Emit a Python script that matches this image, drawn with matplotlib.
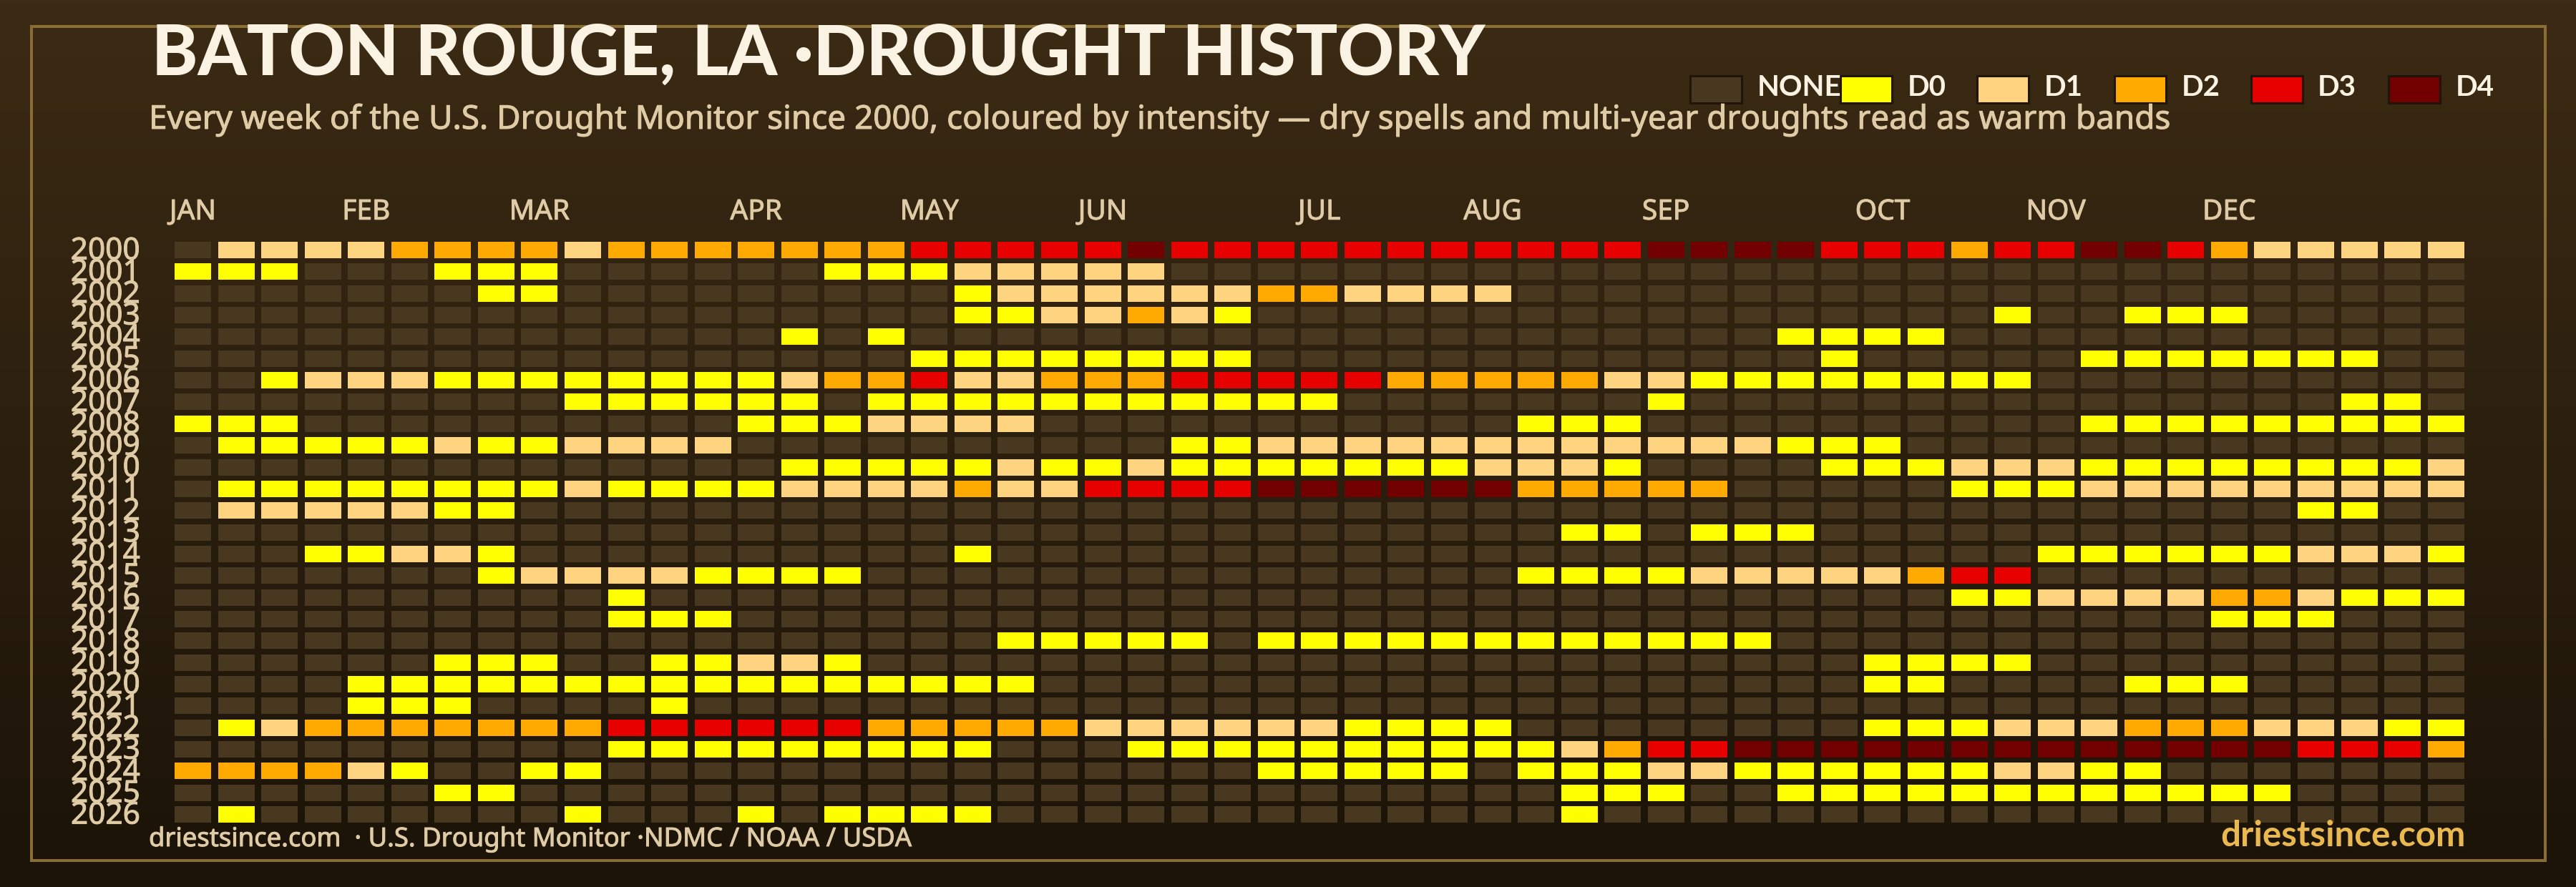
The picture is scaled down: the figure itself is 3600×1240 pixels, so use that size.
import numpy as np
import matplotlib
matplotlib.use("Agg")
import matplotlib.pyplot as plt
import matplotlib.patheffects as pe
from matplotlib.patches import Rectangle

W, H = 3600, 1240
FONT = "Noto Sans"
BOLD = ["Lato", "DejaVu Sans"]

LEVELS = [".", "0", "1", "2", "3", "4"]
LEVEL_LABELS = ["NONE", "D0", "D1", "D2", "D3", "D4"]
LEVEL_COLORS = ["#48381f", "#ffff00", "#ffd480", "#ffaa00", "#e60000", "#730000"]

MONTHS = ["JAN", "FEB", "MAR", "APR", "MAY", "JUN", "JUL", "AUG", "SEP", "OCT", "NOV", "DEC"]
MONTH_WEEKS = [0, 4, 8, 13, 17, 21, 26, 30, 34, 39, 43, 47]

YEARS = list(range(2000, 2027))

# one char per week: . = none, 0-4 = D0-D4
w2000 = ".1111222212222222" "33333" "4" "33333333333" "4444" "333" "2" "33" "44" "3" "2" "11111"
w2001 = "000...000......000" "11111" + "." * 30
w2002 = ".......00" "........." "0" "111111" "22" "1111" + "." * 22
w2003 = "." * 18 + "00" "11" "2" "1" "0" + "." * 17 + "0" ".." "000" "....."
w2004 = "." * 14 + "0.0" + "." * 20 + "0000" + "." * 12
w2005 = "." * 17 + "00000000" + "." * 13 + "0" "....." "0000000" ".."
w2006 = "..0111" "00000000" "1" "22" "3" "11" "222" "33333" "22222" "11" "00000000" + "." * 10
w2007 = "." * 9 + "000000" "." "00000000000" "......." "0" + "." * 15 + "00" "."
w2008 = "000" + "." * 10 + "000" "1111" + "." * 11 + "000" + "." * 10 + "000000000"
w2009 = ".00000" "1" "00" "1111" + "." * 10 + "00" "111111111111" "000" + "." * 13
w2010 = "." * 14 + "00000" "1" "00" "1" "0000000" "111" "0" "...." "000" "111" "00000000" "1"
w2011 = ".00000000" "1" "0000" "1111" "2" "11" "3333" "444444" "22222" "....." "000" "111111111"
w2012 = ".11111" "00" + "." * 41 + "00" ".."
w2013 = "." * 32 + "00" "." "000" + "." * 15
w2014 = "...00110" + "." * 10 + "0" + "." * 24 + "000000" "111" "0"
w2015 = "......." "0" "1111" "0000" + "." * 15 + "0000" "11111" "2" "33" + "." * 10
w2016 = "." * 10 + "0" + "." * 30 + "00" "1111" "22" "1" "000"
w2017 = "." * 10 + "000" + "." * 34 + "000" "..."
w2018 = "." * 19 + "00000" "." "000000000000" + "." * 16
w2019 = "......" "000" ".." "00" "11" "0" + "." * 23 + "0000" + "." * 10
w2020 = "...." "0000000000000000" + "." * 19 + "00" "...." "000" "....."
w2021 = "...." "000" "...." "0" + "." * 41
w2022 = ".01" "2222222" "333333" "22222" "111111" "0000" "........" "000" "111" "222" "111" "00"
w2023 = "." * 10 + "000000000" "..." "0000000000" "1" "2" "33" "4444444444444" "333" "2"
w2024 = "22221" "0" ".." "00" + "." * 15 + "00000" "." "000" "11" "000000" "11" "00" + "." * 7
w2025 = "......" "00" + "." * 24 + "000" ".." "000000000000" "...."
w2026 = ".0" "......." "0" "..." "0" "." "0000" + "." * 13 + "0" + "." * 20

WEEKS = [w2000, w2001, w2002, w2003, w2004, w2005, w2006, w2007, w2008, w2009, w2010,
         w2011, w2012, w2013, w2014, w2015, w2016, w2017, w2018, w2019, w2020, w2021,
         w2022, w2023, w2024, w2025, w2026]

TITLE = "BATON ROUGE, LA ·DROUGHT HISTORY"
SUBTITLE = ("Every week of the U.S. Drought Monitor since 2000, coloured by intensity — "
            "dry spells and multi-year droughts read as warm bands")
SOURCE = "driestsince.com  · U.S. Drought Monitor ·NDMC / NOAA / USDA"
SITE = "driestsince.com"


def fx(x):
    return x / W


def fy(y):
    return 1 - y / H


def medium(text, color="#dfcba5"):
    # only a regular Noto Sans here, thicken it a bit
    text.set_path_effects([pe.withStroke(linewidth=0.7, foreground=color)])


plt.rcParams["font.family"] = [FONT, "DejaVu Sans"]
fig = plt.figure(figsize=(W / 100, H / 100), dpi=100)

# background gradient
bg = fig.add_axes([0, 0, 1, 1], zorder=0)
bg.imshow(np.linspace(0, 1, 256)[:, None], aspect="auto", extent=(0, 1, 0, 1),
          cmap=matplotlib.colors.LinearSegmentedColormap.from_list("bg", ["#3c2b14", "#1b1308"]))
bg.axis("off")

fig.add_artist(Rectangle((fx(44), fy(1203)), fx(3513), 1166 / H, transform=fig.transFigure,
                         fill=False, edgecolor="#8a6d35", linewidth=2.9))

# heatmap
STEP_X, STEP_Y = 60.55, 30.35
ax = fig.add_axes([fx(244), fy(338 + 27 * STEP_Y), 53 * STEP_X / W, 27 * STEP_Y / H], zorder=2)
ax.patch.set_alpha(0)
ax.set_xlim(0, 53)
ax.set_ylim(27, 0)
CW, CH = 51 / STEP_X, 23 / STEP_Y
for r, weeks in enumerate(WEEKS):
    assert len(weeks) == 53, YEARS[r]
    for c, ch in enumerate(weeks):
        ax.add_patch(Rectangle((c, r), CW, CH, linewidth=0,
                               facecolor=LEVEL_COLORS[LEVELS.index(ch)]))

for s in ax.spines.values():
    s.set_visible(False)
ax.xaxis.tick_top()
ax.set_xticks(np.array(MONTH_WEEKS) + CW / 2, MONTHS)
ax.set_yticks(np.arange(27) + CH / 2 - 0.1, YEARS)
ax.tick_params(axis="x", length=0, pad=16, labelsize=28, labelcolor="#dfcba5")
ax.tick_params(axis="y", length=0, pad=34.5, labelsize=30.5, labelcolor="#dfcba5")
for t in ax.get_xticklabels() + ax.get_yticklabels():
    medium(t)

# titles
fig.text(fx(212), fy(105), TITLE, fontsize=70, fontweight=900, fontfamily=BOLD,
         color="#faf3e3", va="baseline", zorder=5)
medium(fig.text(fx(208), fy(180), SUBTITLE, fontsize=33, color="#dfcba5", va="baseline", zorder=5))

# legend
SWATCH_X = [2360, 2570, 2761, 2953, 3144, 3336]
TEXT_X = [2456, 2666, 2857, 3049, 3239, 3432]
for i, lab in enumerate(LEVEL_LABELS):
    fig.add_artist(Rectangle((fx(SWATCH_X[i] + 1.5), fy(143.5)), 72 / W, 38 / H, transform=fig.transFigure,
                             facecolor=LEVEL_COLORS[i], edgecolor="#20150a", linewidth=2.2))
    fig.text(fx(TEXT_X[i]), fy(134.5), lab, fontsize=29, fontweight="bold", fontfamily=BOLD,
             color="#faf3e3", va="baseline", zorder=5)

# footer
medium(fig.text(fx(208), fy(1183), SOURCE, fontsize=26.2, color="#dfcba5", va="baseline", zorder=5))
fig.text(fx(3446), fy(1183), SITE, fontsize=35.5, fontweight="bold", fontfamily=BOLD, color="#e9b84e",
         ha="right", va="baseline", zorder=5)

fig.savefig("out.png", dpi=100, facecolor="#2a1d0e")
